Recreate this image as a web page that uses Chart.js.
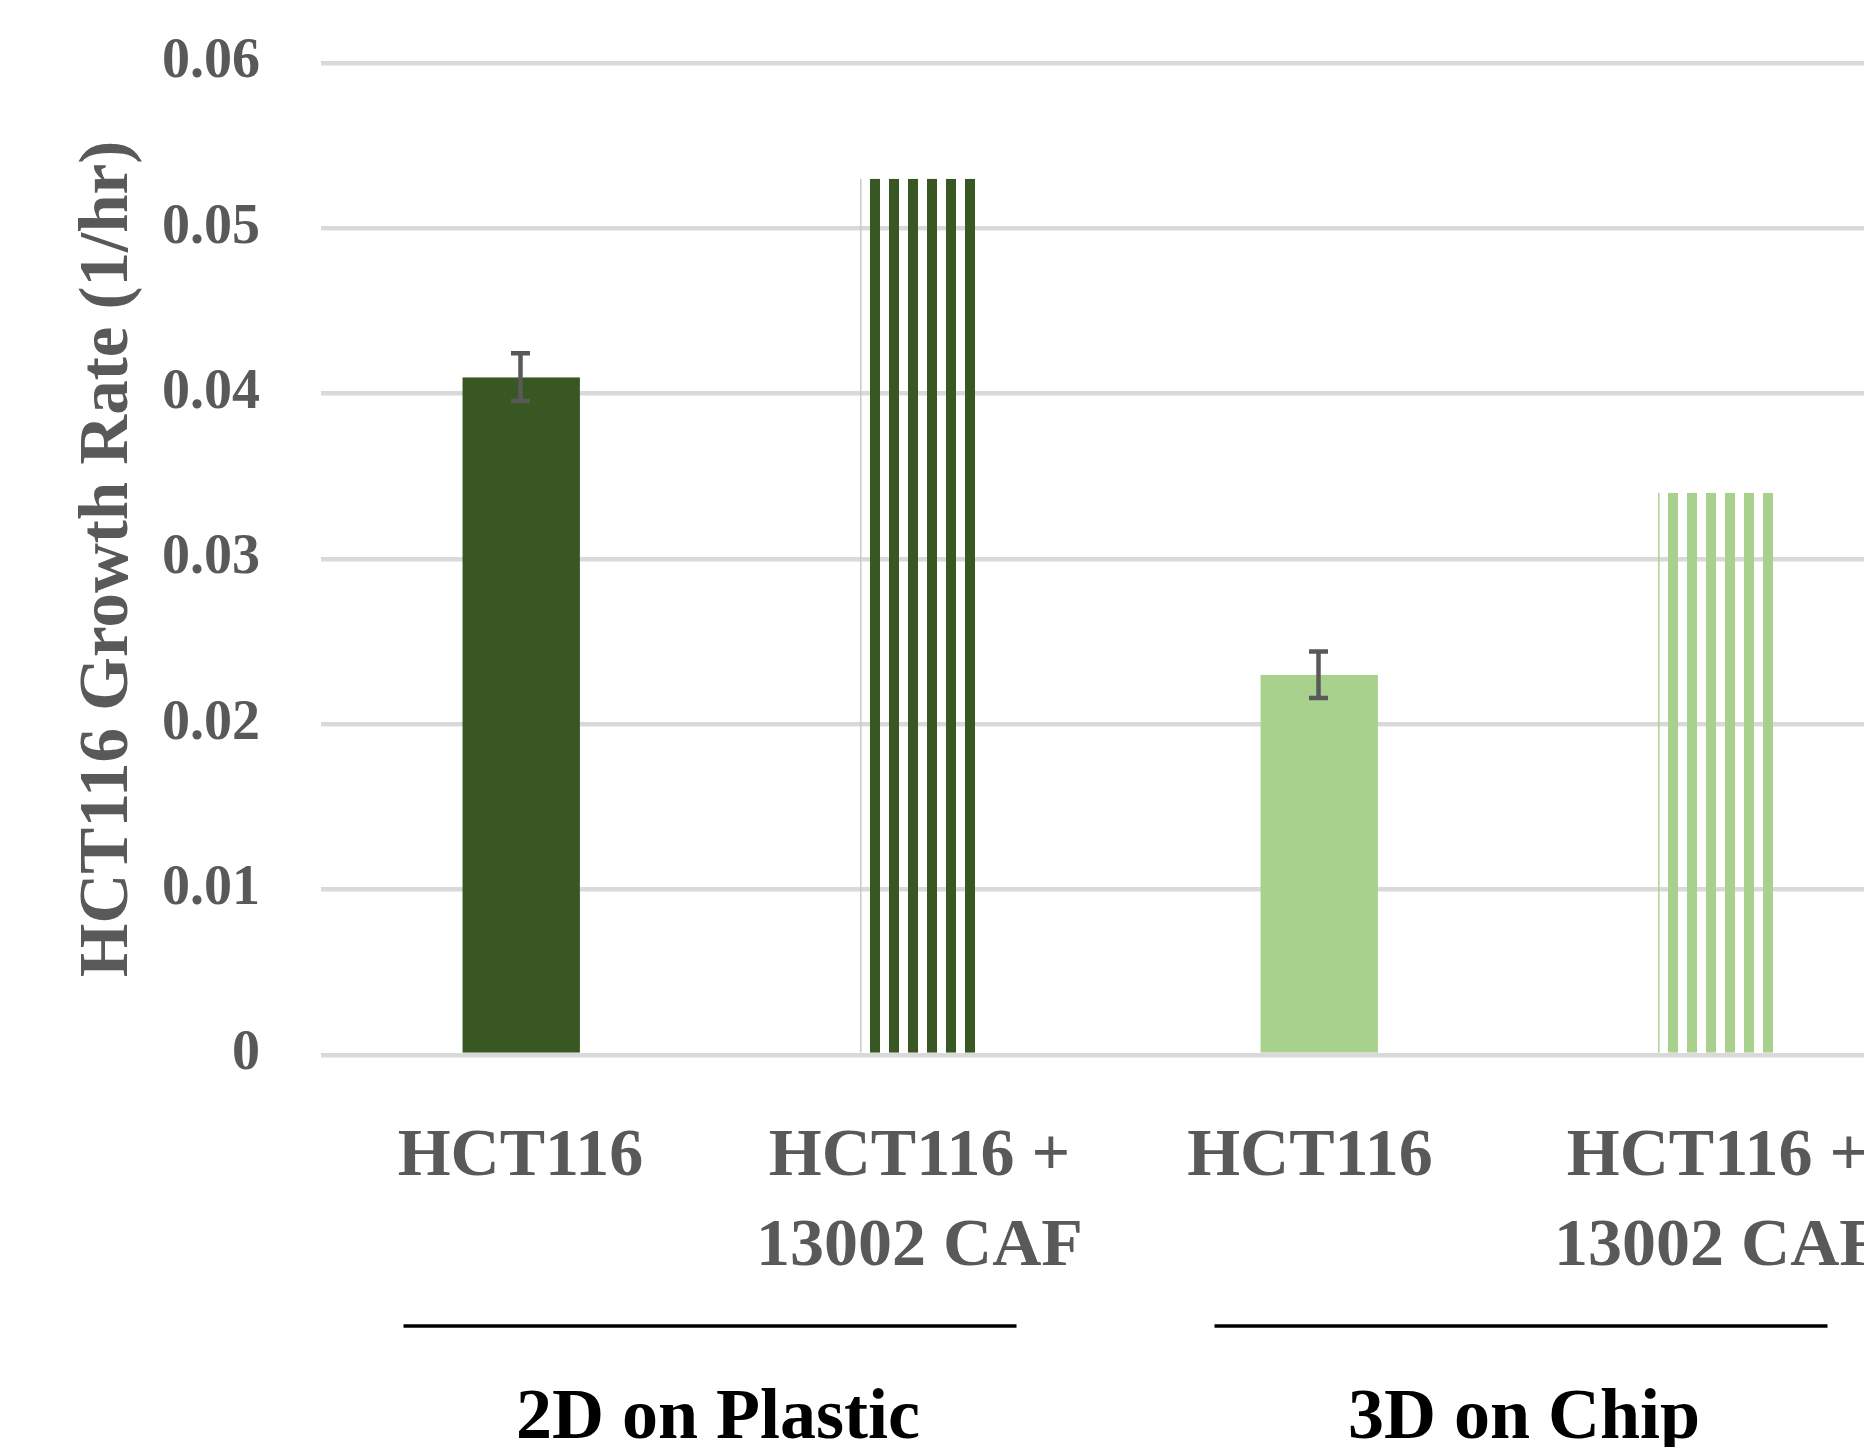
<!DOCTYPE html>
<html>
<head>
<meta charset="utf-8">
<script src="https://cdn.jsdelivr.net/npm/chart.js@4.4.1/dist/chart.umd.min.js"></script>
<style>
  html, body { margin: 0; padding: 0; background: #fff; overflow: hidden; }
  #wrap { width: 1864px; height: 1447px; overflow: hidden; position: relative; }
</style>
</head>
<body>
<div id="wrap"><canvas id="chart" width="2000" height="1447"></canvas></div>
<script>
// chart values
const categories = [["HCT116"], ["HCT116 +", "13002 CAF"], ["HCT116 "], ["HCT116 +", "13002 CAF"]];
const growthRates = [0.041, 0.053, 0.023, 0.034];
const errorMargins = [0.00145, null, 0.0014, null];
const groupNames = ["2D on Plastic", "3D on Chip"];
const groupMembers = [[0, 1], [2, 3]];

const DARK = "#385723";
const LIGHT = "#A9D18E";
const TEXT = "#595959";
const FONT = "'Liberation Serif', 'Times New Roman', serif";

// vertical stripe fill, like Excel's "wide vertical" pattern
function stripes(color) {
    const c = document.createElement("canvas");
    c.width = 19;
    c.height = 4;
    const g = c.getContext("2d");
    g.fillStyle = color;
    g.fillRect(15, 0, 4, 4);
    g.fillRect(0, 0, 6, 4);
    return g.createPattern(c, "repeat");
}

const errorBars = {
    id: "errorBars",
    afterDatasetsDraw(chart) {
        const { ctx, scales: { x, y } } = chart;
        ctx.save();
        ctx.strokeStyle = TEXT;
        ctx.lineWidth = 4.5;
        errorMargins.forEach((e, i) => {
            if (e == null) return;
            const cx = x.getPixelForValue(i);
            const top = y.getPixelForValue(growthRates[i] + e);
            const bot = y.getPixelForValue(growthRates[i] - e);
            ctx.beginPath();
            ctx.moveTo(cx, top);
            ctx.lineTo(cx, bot);
            ctx.moveTo(cx - 9.5, top);
            ctx.lineTo(cx + 9.5, top);
            ctx.moveTo(cx - 9.5, bot);
            ctx.lineTo(cx + 9.5, bot);
            ctx.stroke();
        });
        ctx.restore();
    }
};

// bracket lines + group names under the category labels
const lineShift = [-10, 3];
const textShift = [-2, 6];
const groupLabels = {
    id: "groupLabels",
    afterDraw(chart) {
        const { ctx, scales: { x } } = chart;
        ctx.save();
        groupMembers.forEach((m, gi) => {
            const x0 = x.getPixelForValue(m[0]);
            const x1 = x.getPixelForValue(m[m.length - 1]);
            const mid = (x0 + x1) / 2;
            const half = (x1 - x0) / 2 + 107;
            ctx.strokeStyle = "#000";
            ctx.lineWidth = 3.5;
            ctx.beginPath();
            ctx.moveTo(mid + lineShift[gi] - half, 1326);
            ctx.lineTo(mid + lineShift[gi] + half, 1326);
            ctx.stroke();
            ctx.fillStyle = "#000";
            ctx.font = "bold 72px " + FONT;
            ctx.textAlign = "center";
            ctx.textBaseline = "middle";
            ctx.fillText(groupNames[gi], mid + textShift[gi], 1419);
        });
        ctx.restore();
    }
};

new Chart(document.getElementById("chart"), {
    type: "bar",
    data: {
        labels: categories,
        datasets: [
            {
                data: growthRates,
                backgroundColor: [DARK, stripes(DARK), LIGHT, stripes(LIGHT)],
                borderColor: ["rgba(0,0,0,0)", "#c5cdbd", "rgba(0,0,0,0)", LIGHT],
                borderWidth: { left: 1.5, top: 0, right: 0, bottom: 0 },
                borderSkipped: false,
                barPercentage: 0.298,
                categoryPercentage: 1
            }
        ]
    },
    options: {
        responsive: false,
        animation: false,
        layout: { padding: { left: 0, top: 63, right: 83, bottom: 0 } },
        plugins: {
            legend: { display: false },
            tooltip: { enabled: false }
        },
        scales: {
            x: {
                grid: { display: false, drawTicks: false },
                border: { display: false },
                ticks: {
                    color: TEXT,
                    padding: 58,
                    maxRotation: 0,
                    font: { family: FONT, size: 68, weight: "bold", lineHeight: 1.32 }
                },
                afterFit: (s) => { s.height = 392; }
            },
            y: {
                min: 0,
                max: 0.06,
                grid: { color: "#D9D9D9", lineWidth: 4.5, drawTicks: false },
                border: { display: false },
                ticks: {
                    stepSize: 0.01,
                    color: TEXT,
                    padding: 61,
                    font: { family: FONT, size: 56, weight: "bold" },
                    callback: (v) => String(Math.round(v * 100) / 100)
                },
                title: {
                    display: true,
                    text: "HCT116 Growth Rate (1/hr)",
                    color: TEXT,
                    padding: { top: 68, bottom: 0 },
                    font: { family: FONT, size: 69, weight: "bold" }
                },
                afterFit: (s) => {
                    s.width = 321;
                    s.paddingTop = 0;
                    s.paddingBottom = 0;
                }
            }
        }
    },
    plugins: [errorBars, groupLabels]
});
</script>
</body>
</html>
